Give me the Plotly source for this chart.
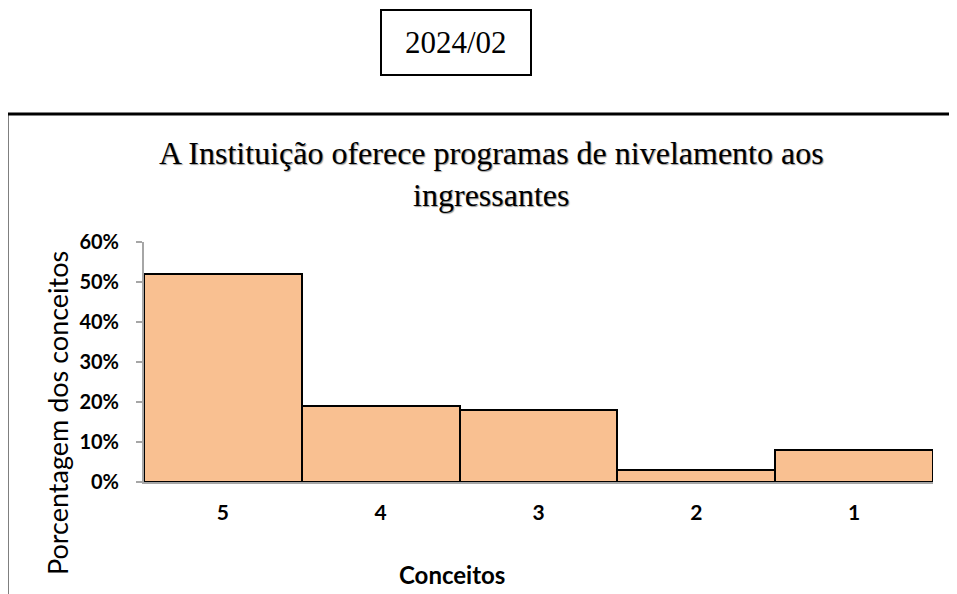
import plotly.graph_objects as go

categories = ["5", "4", "3", "2", "1"]
values = [0.52, 0.19, 0.18, 0.03, 0.08]
y_ticks = [0, 0.1, 0.2, 0.3, 0.4, 0.5, 0.6]
y_tick_labels = ["0%", "10%", "20%", "30%", "40%", "50%", "60%"]

OFF = 8  # page body margin
W, H = 957 - OFF, 594 - OFF
L, R, T, B = 144, 933, 242, 482


def px(x):
    return (x - L) / (R - L)


def py(y):
    return (B - y) / (B - T)


fig = go.Figure(
    go.Bar(
        x=categories,
        y=values,
        marker=dict(color="#F9C091", line=dict(color="#000000", width=2)),
    )
)

fig.update_layout(
    width=W,
    height=H,
    margin=dict(l=L - OFF, r=957 - R, t=T - OFF, b=594 - B, pad=0),
    paper_bgcolor="white",
    plot_bgcolor="white",
    bargap=0,
    showlegend=False,
    xaxis=dict(
        type="category",
        showline=True,
        linecolor="#A6A6A6",
        linewidth=2,
        ticks="",
        showgrid=False,
        tickfont=dict(family="Lato", size=21, color="black", weight="bold"),
        ticklabelstandoff=11,
    ),
    yaxis=dict(
        range=[0, 0.6],
        tickvals=y_ticks,
        ticktext=y_tick_labels,
        showline=True,
        linecolor="#A6A6A6",
        linewidth=2,
        ticks="outside",
        ticklen=6,
        tickcolor="#A6A6A6",
        tickwidth=2,
        showgrid=False,
        zeroline=False,
        tickfont=dict(family="Lato", size=20, color="black", weight="bold"),
        ticklabelstandoff=13,
    ),
    shapes=[
        dict(type="rect", xref="paper", yref="paper",
             x0=px(381), x1=px(531), y0=py(10), y1=py(75),
             line=dict(color="black", width=2)),
        dict(type="line", xref="paper", yref="paper",
             x0=px(7), x1=px(970), y0=py(114), y1=py(114),
             line=dict(color="black", width=3)),
        dict(type="line", xref="paper", yref="paper",
             x0=px(7), x1=px(7), y0=py(114), y1=py(610),
             line=dict(color="black", width=3)),
    ],
    annotations=[
        dict(text="2024/02", xref="paper", yref="paper",
             x=px(456), y=py(42), xanchor="center", yanchor="middle",
             showarrow=False,
             font=dict(family="Liberation Serif", size=31, color="black")),
        dict(text="A Instituição oferece programas de nivelamento aos<br>ingressantes",
             xref="paper", yref="paper", x=px(491), y=py(174),
             xanchor="center", yanchor="middle", showarrow=False,
             font=dict(family="Liberation Serif", size=32, color="black",
                       shadow="1px 1px 1px #999"),
             align="center"),
        dict(text="Porcentagem dos conceitos", xref="paper", yref="paper",
             x=px(57), y=py(413), xanchor="center", yanchor="middle",
             showarrow=False, textangle=-90,
             font=dict(family="Lato", size=27, color="black")),
        dict(text="Conceitos", xref="paper", yref="paper",
             x=px(452), y=py(574), xanchor="center", yanchor="middle",
             showarrow=False,
             font=dict(family="Lato", size=24, color="black", weight="bold")),
    ],
)

fig.write_html("out.html")
